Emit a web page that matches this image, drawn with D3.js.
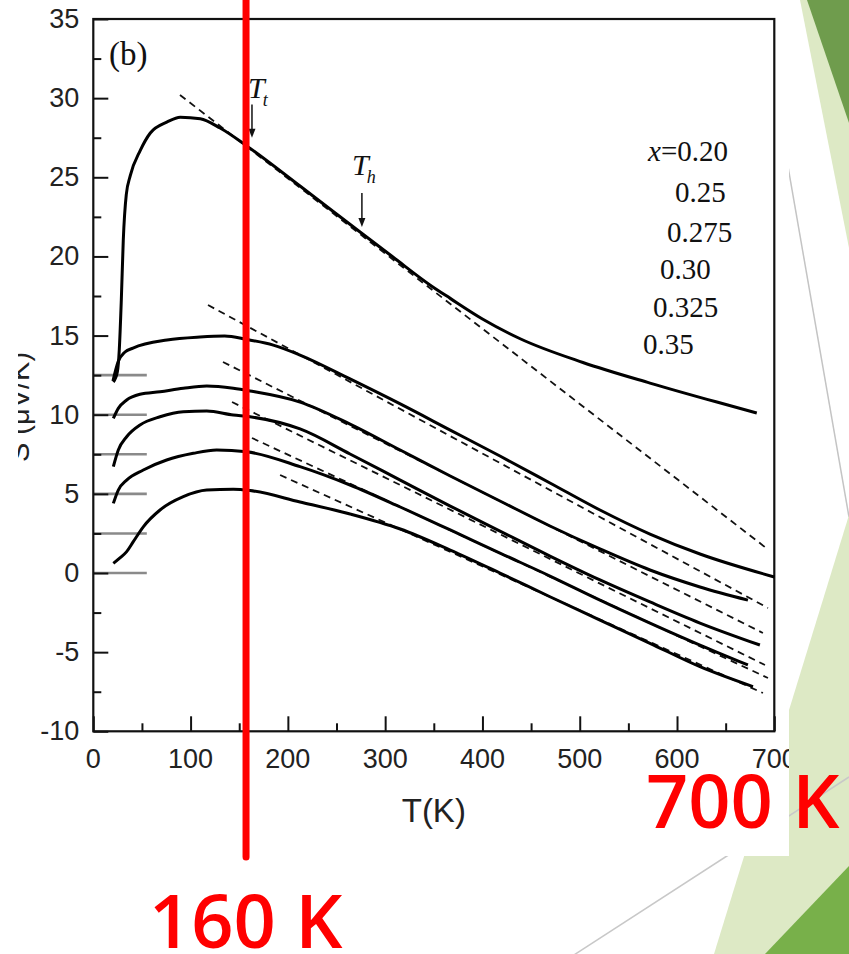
<!DOCTYPE html>
<html><head><meta charset="utf-8">
<script src="https://cdn.jsdelivr.net/npm/d3@7"></script>
<style>html,body{margin:0;padding:0;background:#fff;} svg{display:block}</style>
</head><body>
<svg id="c" width="849" height="954"></svg>
<script>
// ---------- data ----------
const tickT = [0,100,200,300,400,500,600,700];
const minorT = [50,150,250,350,450,550,650];
const tickS = [-10,-5,0,5,10,15,20,25,30,35];
const minorS = [-7.5,-2.5,2.5,7.5,12.5,17.5,22.5,27.5,32.5];
const refLevels = [12.5,10,7.5,5,2.5,0];
const refEndT = 55;
const legendLabels = ["0.20","0.25","0.275","0.30","0.325","0.35"];

const s020 = [[20.6,12.07],[24.7,12.7],[26.7,14.1],[28.8,17.25],[30.8,21.0],[33.9,23.9],[38,25.1],[48.3,26.7],[58.6,27.8],[76,28.5],[89.4,28.8],[110,28.7],[130.3,28.11],[158,26.97],[212.5,24.45],[274.2,21.54],[308,19.96],[346,18.2],[366.9,17.35],[400,16.05],[438.8,14.8],[503.3,13.3],[572.2,12.0],[641,10.8],[682,10.11]];
const s025 = [[20.2,12.13],[25.4,13.33],[32.6,13.96],[40.8,14.21],[75.8,14.72],[109.7,14.91],[135,14.97],[158,14.75],[185,14.4],[212.5,13.77],[263.9,12.26],[315.5,10.68],[366.9,9.03],[418,7.39],[469.4,5.69],[520.8,3.98],[572.2,2.46],[623.6,1.2],[700,-0.25]];
const s0275 = [[20.6,9.77],[25.7,10.4],[34.3,10.93],[48,11.29],[68.6,11.45],[92.5,11.67],[116.6,11.81],[143.9,11.67],[161.1,11.5],[212.5,10.8],[263.9,9.41],[315.5,7.77],[366.9,6.13],[418,4.55],[469.4,2.97],[520.8,1.52],[572.2,0.19],[623.6,-0.88],[672.9,-1.71]];
const s030 = [[20.6,6.72],[25.7,7.77],[34.3,8.61],[48,9.35],[68.6,9.87],[92.5,10.19],[116.6,10.23],[143.9,9.98],[161.1,9.87],[212.5,9.1],[263.9,7.52],[315.5,5.87],[366.9,4.23],[418,2.65],[469.4,1.07],[520.8,-0.44],[572.2,-1.83],[623.6,-3.16],[685.2,-4.55]];
const s0325 = [[20.6,4.4],[25.7,5.24],[34.3,5.87],[51.4,6.51],[75.4,7.14],[102.8,7.56],[126.8,7.77],[157.7,7.66],[212.5,6.72],[263.9,5.56],[315.5,4.17],[366.9,2.72],[418,1.26],[469.4,-0.19],[520.8,-1.71],[572.2,-3.16],[623.6,-4.55],[672.9,-5.81]];
const s035 = [[20.6,0.61],[27.4,0.95],[34.3,1.35],[41.1,1.98],[51.4,2.92],[68.6,3.98],[92.5,4.82],[116.6,5.24],[143.9,5.29],[161.1,5.21],[212.5,4.49],[263.9,3.73],[315.5,2.78],[366.9,1.45],[418,0.0],[469.4,-1.5],[520.8,-2.97],[572.2,-4.44],[623.6,-5.92],[678.1,-7.18]];

const fit020 = [[89.1,30.2],[690.4,1.64]];
const fit025 = [[117.9,16.93],[693.5,-2.21]];
const fit0275 = [[133.3,13.33],[688.3,-3.79]];
const fit030 = [[142.6,10.8],[690.4,-5.81]];
const fit0325 = [[163.1,8.53],[693.5,-6.63]];
const fit035 = [[192,6.19],[688.3,-7.58]];

const markT = 157;

// ---------- setup ----------
const svg = d3.select('#c');
const x = d3.scaleLinear().domain([0,700]).range([93.3,774.3]);
const y = d3.scaleLinear().domain([-10,35]).range([731.3,19]);

// slide background decoration
const deco = svg.append('g');
deco.append('polygon').attr('points','800,0 849,0 849,248').attr('fill','#dde9c5');
deco.append('polygon').attr('points','807,0 849,0 849,123').attr('fill','#6f9c4d');
deco.append('line').attr('x1',759).attr('y1',0).attr('x2',849).attr('y2',517).attr('stroke','#c4c4c4').attr('stroke-width',1.5);
deco.append('polygon').attr('points','849,515 714,954 849,954').attr('fill','#dde9c5');
deco.append('polygon').attr('points','849,866 849,954 765,954').attr('fill','#78b04a');
deco.append('line').attr('x1',560).attr('y1',964).attr('x2',849).attr('y2',777).attr('stroke','#c8c8c8').attr('stroke-width',1.5);

// chart image
svg.append('clipPath').attr('id','imgclip').append('rect').attr('x',0).attr('y',0).attr('width',789).attr('height',856);
const img = svg.append('g').attr('clip-path','url(#imgclip)');
img.append('rect').attr('x',0).attr('y',0).attr('width',789).attr('height',856).attr('fill','#fff');

const g = img.append('g');
const ink = '#111';

// reference offset lines
g.selectAll('line.ref').data(refLevels).enter().append('line')
  .attr('x1',x(0)).attr('x2',x(refEndT)).attr('y1',d=>y(d)).attr('y2',d=>y(d))
  .attr('stroke','#8a8a8a').attr('stroke-width',2.6);

// axes frame
g.append('rect').attr('x',x(0)).attr('y',y(35)).attr('width',x(700)-x(0)).attr('height',y(-10)-y(35))
  .attr('fill','none').attr('stroke',ink).attr('stroke-width',2.2);

// ticks
function styleAx(s){ s.select('.domain').remove(); s.selectAll('line').attr('stroke',ink).attr('stroke-width',2); }
g.append('g').attr('transform',`translate(0,${y(-10)})`).call(d3.axisBottom(x).tickValues(tickT).tickSize(-15).tickFormat('')).call(styleAx);
g.append('g').attr('transform',`translate(0,${y(-10)})`).call(d3.axisBottom(x).tickValues(minorT).tickSize(-8).tickFormat('')).call(styleAx);
g.append('g').attr('transform',`translate(${x(0)},0)`).call(d3.axisLeft(y).tickValues(tickS).tickSize(-15).tickFormat('')).call(styleAx);
g.append('g').attr('transform',`translate(${x(0)},0)`).call(d3.axisLeft(y).tickValues(minorS).tickSize(-8).tickFormat('')).call(styleAx);

// tick labels
const sans = 'Liberation Sans, Arial, sans-serif';
g.selectAll('text.xl').data(tickT).enter().append('text')
  .attr('x',d=>x(d)).attr('y',y(-10)+37).attr('text-anchor','middle')
  .attr('font-family',sans).attr('font-size',27).attr('fill','#222').text(d=>d);
g.selectAll('text.yl').data(tickS).enter().append('text')
  .attr('x',x(0)-14).attr('y',d=>y(d)+9).attr('text-anchor','end')
  .attr('font-family',sans).attr('font-size',27).attr('fill','#222').text(d=>d);

g.append('text').attr('x',(x(0)+x(700))/2).attr('y',822).attr('text-anchor','middle')
  .attr('font-family',sans).attr('font-size',33).attr('fill','#222').text('T(K)');

// y label (clipped at left like the source)
svg.append('clipPath').attr('id','ylclip').append('rect').attr('x',18).attr('y',0).attr('width',40).attr('height',856);
img.append('g').attr('clip-path','url(#ylclip)').append('text')
  .attr('transform','translate(29,407) rotate(-90)').attr('text-anchor','middle')
  .attr('font-family',sans).attr('font-size',29).attr('fill','#222').text('S (μV/K)');

// (b)
const serif = 'Liberation Serif, Times New Roman, serif';
g.append('text').attr('x',109).attr('y',65).attr('font-family',serif)
  .attr('font-size',33).attr('fill',ink).text('(b)');

// curves
const line = d3.line().x(d=>x(d[0])).y(d=>y(d[1])).curve(d3.curveMonotoneX);
const series = [s020,s025,s0275,s030,s0325,s035];
const fits = [fit020,fit025,fit0275,fit030,fit0325,fit035];
g.selectAll('path.fit').data(fits).enter().append('path')
  .attr('d',d3.line().x(d=>x(d[0])).y(d=>y(d[1]))).attr('fill','none')
  .attr('stroke',ink).attr('stroke-width',1.8).attr('stroke-dasharray','7,5');
g.selectAll('path.ser').data(series).enter().append('path')
  .attr('d',line).attr('fill','none').attr('stroke','#000').attr('stroke-width',3).attr('stroke-linejoin','round');

// legend text
const legPos = [[648,161],[675,202],[667,242],[660,279],[653,317],[643,354]];
legendLabels.forEach((t,i)=>{
  const tx = g.append('text').attr('x',legPos[i][0]).attr('y',legPos[i][1]).attr('font-family',serif).attr('font-size',29).attr('fill',ink);
  if(i===0){ tx.append('tspan').attr('font-style','italic').text('x'); tx.append('tspan').text('='+t); }
  else tx.text(t);
});

// T_t and T_h annotations
function tLabel(tx, ty, sub){
  const t = g.append('text').attr('x',tx).attr('y',ty).attr('font-family',serif).attr('font-style','italic').attr('font-size',30).attr('fill',ink);
  t.append('tspan').text('T');
  t.append('tspan').attr('font-size',18).attr('dy',8).attr('dx',-2).text(sub);
}
function arrow(T, s1, s2){
  const ax = x(T), a1 = y(s1), a2 = y(s2);
  g.append('line').attr('x1',ax).attr('x2',ax).attr('y1',a1).attr('y2',a2-6).attr('stroke',ink).attr('stroke-width',1.5);
  g.append('polygon').attr('points',`${ax-3.5},${a2-9} ${ax+3.5},${a2-9} ${ax},${a2}`).attr('fill',ink);
}
tLabel(x(159), y(30.0), 't');
arrow(163.1, 29.6, 27.5);
tLabel(x(266), y(25.14), 'h');
arrow(276.1, 24.0, 21.86);

// ---------- red overlay annotations ----------
svg.append('line').attr('x1',x(markT)).attr('x2',x(markT)).attr('y1',-10).attr('y2',857)
  .attr('stroke','#ff0000').attr('stroke-width',7).attr('stroke-linecap','round');
svg.append('text').attr('x',149).attr('y',948).attr('font-family','Open Sans, sans-serif').attr('font-weight',600)
  .attr('font-size',74).attr('fill','#ff0000').text('160 K');
svg.append('text').attr('x',646).attr('y',828).attr('font-family','Open Sans, sans-serif').attr('font-weight',600)
  .attr('font-size',74).attr('fill','#ff0000').text('700 K');
</script>
</body></html>
